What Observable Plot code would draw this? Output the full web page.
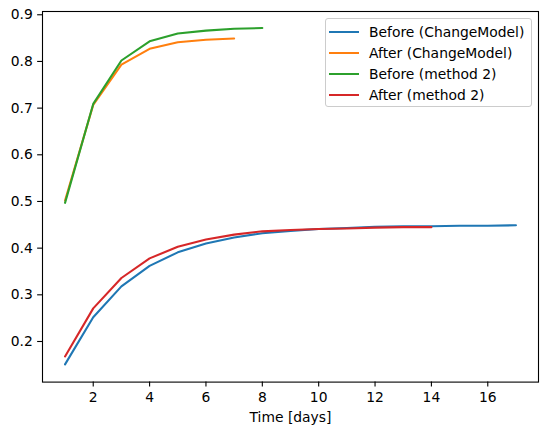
<!DOCTYPE html>
<html>
<head>
<meta charset="utf-8">
<script src="https://cdn.jsdelivr.net/npm/d3@7"></script>
<script src="https://cdn.jsdelivr.net/npm/@observablehq/plot@0.6"></script>
<style>
  html, body { margin: 0; padding: 0; background: white; }
  #wrap { position: relative; width: 547px; height: 434px; font-family: "DejaVu Sans", sans-serif; }
  #legend { position: absolute; left: 325px; top: 18px; width: 207px; height: 89px;
    border: 1px solid #cccccc; border-radius: 3px; background: rgba(255,255,255,0.8);
    box-sizing: border-box; padding-top: 2px; }
  .row { height: 21px; display: flex; align-items: center; font-size: 13.89px; color: black; }
  .sw { width: 30px; height: 2px; margin-left: 3px; margin-right: 10px; }
</style>
</head>
<body>
<div id="wrap"></div>
<script>
const seriesNames = ["Before (ChangeModel)", "After (ChangeModel)", "Before (method 2)", "After (method 2)"];
const colors = ["#1f77b4", "#ff7f0e", "#2ca02c", "#d62728"];

const beforeCMDays = [1,2,3,4,5,6,7,8,9,10,11,12,13,14,15,16,17];
const beforeCM = [0.151,0.252,0.318,0.362,0.391,0.410,0.423,0.432,0.437,0.441,0.443,0.446,0.447,0.447,0.448,0.448,0.449];
const afterCMDays = [1,2,3,4,5,6,7];
const afterCM = [0.502,0.707,0.793,0.827,0.841,0.8465,0.849];
const beforeM2Days = [1,2,3,4,5,6,7,8];
const beforeM2 = [0.497,0.709,0.802,0.843,0.860,0.866,0.870,0.8715];
const afterM2Days = [1,2,3,4,5,6,7,8,9,10,11,12,13,14];
const afterM2 = [0.168,0.271,0.336,0.378,0.403,0.4185,0.429,0.436,0.439,0.441,0.442,0.444,0.445,0.445];

const xTicks = [2,4,6,8,10,12,14,16];
const yTicks = [0.2,0.3,0.4,0.5,0.6,0.7,0.8,0.9];

const series = [
  [beforeCMDays, beforeCM],
  [afterCMDays, afterCM],
  [beforeM2Days, beforeM2],
  [afterM2Days, afterM2]
];
const data = series.flatMap(([xs, ys], i) => xs.map((d, j) => ({day: d, value: ys[j], s: seriesNames[i]})));

const chart = Plot.plot({
  width: 547,
  height: 434,
  marginLeft: 42,
  marginRight: 9,
  marginTop: 11,
  marginBottom: 52.4,
  style: {fontFamily: "DejaVu Sans, sans-serif", fontSize: "13.89px", color: "black", background: "white"},
  x: {domain: [0.2, 17.8]},
  y: {domain: [0.113, 0.907]},
  color: {domain: seriesNames, range: colors},
  marks: [
    Plot.axisX({ticks: xTicks, tickSize: 4.86, tickPadding: 4.86, strokeWidth: 1.1, label: "Time [days]", labelAnchor: "center", labelArrow: "none", labelOffset: 40, fontSize: 13.89}),
    Plot.axisY({ticks: yTicks, tickFormat: ".1f", tickSize: 4.86, tickPadding: 4.86, strokeWidth: 1.1, label: null, fontSize: 13.89}),
    Plot.lineY(data, {x: "day", y: "value", z: "s", stroke: "s", strokeWidth: 2.08}),
    Plot.frame({stroke: "black", strokeWidth: 1.1})
  ]
});

const wrap = document.getElementById("wrap");
wrap.appendChild(chart);

const legend = document.createElement("div");
legend.id = "legend";
seriesNames.forEach((n, i) => {
  const row = document.createElement("div");
  row.className = "row";
  const sw = document.createElement("div");
  sw.className = "sw";
  sw.style.background = colors[i];
  const t = document.createElement("span");
  t.textContent = n;
  row.appendChild(sw);
  row.appendChild(t);
  legend.appendChild(row);
});
wrap.appendChild(legend);
</script>
</body>
</html>
